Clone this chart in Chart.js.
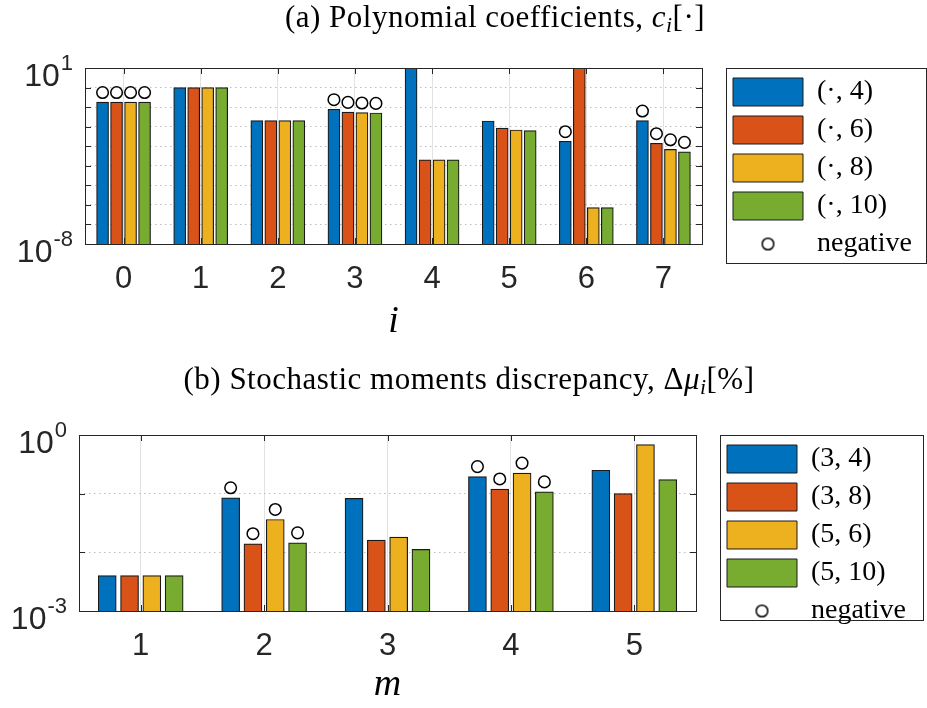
<!DOCTYPE html>
<html><head><meta charset="utf-8">
<script src="https://cdn.jsdelivr.net/npm/chart.js@4.4.0/dist/chart.umd.min.js"></script>
<style>
html,body{margin:0;padding:0;background:#fff;}
#root{position:relative;width:927px;height:708px;overflow:hidden;background:#fff;}
canvas{position:absolute;left:0;}
.ttl{position:absolute;width:800px;text-align:center;font-family:"Liberation Serif","Times New Roman",serif;font-size:31px;line-height:34px;letter-spacing:0.5px;white-space:nowrap;color:#000;}
.ttl sub{font-size:0.7em;vertical-align:-0.25em;line-height:0;}
</style></head><body><div id="root">
<canvas id="c1" width="927" height="350" style="top:0"></canvas>
<canvas id="c2" width="927" height="358" style="top:350px"></canvas>
<div class="ttl" style="left:95px;top:0px">(a) Polynomial coefficients, <i>c</i><sub><i>i</i></sub>[·]</div>
<div class="ttl" style="left:69px;top:362px">(b) Stochastic moments discrepancy, Δ<i>μ</i><sub><i>i</i></sub>[%]</div>
</div>
<script>
// ---------- data: (a) polynomial coefficients ----------
const coefIndex  = ['0', '1', '2', '3', '4', '5', '6', '7'];
const coefLabels = ['(·, 4)', '(·, 6)', '(·, 8)', '(·, 10)'];
const coef4  = [0.18, 1.0, 0.0204, 0.0776, 60,     0.0195,  0.00178, 0.0204];
const coef6  = [0.18, 1.0, 0.0204, 0.0562, 2.0e-4, 0.0085,  60,      0.00141];
const coef8  = [0.18, 1.0, 0.0204, 0.0525, 2.0e-4, 0.00676, 7.2e-7,  6.9e-4];
const coef10 = [0.18, 1.0, 0.0204, 0.0501, 2.0e-4, 0.0063,  7.2e-7,  5.1e-4];
const coefNeg4  = [1, 0, 0, 1, 0, 0, 1, 1];
const coefNeg6  = [1, 0, 0, 1, 0, 0, 0, 1];
const coefNeg8  = [1, 0, 0, 1, 0, 0, 0, 1];
const coefNeg10 = [1, 0, 0, 1, 0, 0, 0, 1];
const coefYTickExp = [-8, 1];
const coefXTitle = 'i';

// ---------- data: (b) stochastic moments discrepancy ----------
const momentOrder  = ['1', '2', '3', '4', '5'];
const momentLabels = ['(3, 4)', '(3, 8)', '(5, 6)', '(5, 10)'];
const mom34  = [0.004, 0.085,  0.083,  0.195, 0.251];
const mom38  = [0.004, 0.0140, 0.0162, 0.120, 0.100];
const mom56  = [0.004, 0.0363, 0.0182, 0.224, 0.684];
const mom510 = [0.004, 0.0145, 0.0112, 0.107, 0.174];
const momNeg34  = [0, 1, 0, 1, 0];
const momNeg38  = [0, 1, 0, 1, 0];
const momNeg56  = [0, 1, 0, 1, 0];
const momNeg510 = [0, 1, 0, 1, 0];
const momYTickExp = [-3, 0];
const momXTitle = 'm';
const negLabel = 'negative';

// ---------- styles ----------
const COLORS = ['#0072BD', '#D95319', '#EDB120', '#77AC30'];
const AXIS = '#262626';
const SANS = '"Liberation Sans", Arial, sans-serif';
const SERIF = '"Liberation Serif", "Times New Roman", serif';

function circleImage() {
  const c = document.createElement('canvas');
  c.width = 15; c.height = 15;
  const g = c.getContext('2d');
  g.beginPath(); g.arc(7.5, 7.5, 5.8, 0, Math.PI * 2);
  g.fillStyle = '#fff'; g.fill();
  g.lineWidth = 1.5; g.strokeStyle = '#000'; g.stroke();
  return c;
}
const CIRCLE_IMG = circleImage();

const framePlugin = {
  id: 'frame',
  beforeLayout(chart, args, o) {
    const lg = chart.legend;
    if (lg && !lg._fixedW) {
      const fit = lg.fit;
      lg.fit = function () { fit.call(this); this.width = o.legendWidth; };
      lg._fixedW = true;
    }
  },
  afterDatasetsDraw(chart, args, o) {
    const ctx = chart.ctx, ca = chart.chartArea;
    const xs = chart.scales.x, ys = chart.scales.y;
    ctx.save();
    ctx.strokeStyle = AXIS; ctx.lineWidth = 1;
    ctx.beginPath();
    xs.ticks.forEach((t, i) => {
      const px = Math.round(xs.getPixelForTick(i)) + 0.5;
      ctx.moveTo(px, ca.bottom); ctx.lineTo(px, ca.bottom - 6);
      ctx.moveTo(px, ca.top); ctx.lineTo(px, ca.top + 6);
    });
    ys.ticks.forEach(t => {
      const py = Math.round(ys.getPixelForValue(t.value)) + 0.5;
      ctx.moveTo(ca.left, py); ctx.lineTo(ca.left + 6, py);
      ctx.moveTo(ca.right, py); ctx.lineTo(ca.right - 6, py);
    });
    ctx.stroke();
    ctx.strokeRect(Math.round(ca.left) + 0.5, Math.round(ca.top) + 0.5,
                   Math.round(ca.right) - Math.round(ca.left), Math.round(ca.bottom) - Math.round(ca.top));
    ctx.restore();
  },
  afterDraw(chart, args, o) {
    const ctx = chart.ctx, ca = chart.chartArea, ys = chart.scales.y;
    ctx.save();
    ctx.fillStyle = AXIS;
    ctx.textBaseline = 'alphabetic';
    o.tickExp.forEach(e => {
      const py = ys.getPixelForValue(Math.pow(10, e));
      const es = String(e);
      ctx.font = '22px ' + SANS;
      const ew = ctx.measureText(es).width;
      const xr = ca.left - 12;
      ctx.textAlign = 'left';
      ctx.fillText(es, xr - ew, py + 1.5);
      ctx.font = '32px ' + SANS;
      ctx.textAlign = 'right';
      ctx.fillText('10', xr - ew - 1, py + 17.5);
    });
    const lg = chart.legend;
    ctx.strokeStyle = AXIS; ctx.lineWidth = 1;
    const x0 = Math.round(lg.left) + 3.5, y0 = Math.round(ca.top) + 0.5;
    ctx.strokeRect(x0, y0, o.frameRight - x0, o.frameBottom - y0);
    ctx.restore();
  }
};

function makeChart(canvasId, cats, series, labels, negs, tickExp, xTitle, g) {
  const n = cats.length;
  // position of bar j inside category i, in category units (same rule for bars and circles)
  const slot = (i, j) => i + g.groupWidth * (j - (series.length - 1) / 2) / series.length;
  const datasets = series.map((vals, j) => ({
    type: 'bar', label: labels[j],
    data: vals.map((v, i) => ({x: slot(i, j), y: v})),
    xAxisID: 'xc', yAxisID: 'y', grouped: false, barThickness: g.barPx,
    backgroundColor: COLORS[j], borderColor: '#1a1a1a', borderWidth: 1.2,
    pointStyle: 'rect', order: 1,
    clip: {left: false, right: false, top: 0, bottom: false}
  }));
  const negPts = [];
  series.forEach((vals, j) => vals.forEach((v, i) => {
    if (negs[j][i]) negPts.push({x: slot(i, j), y: v * g.lift});
  }));
  datasets.push({
    type: 'scatter', label: negLabel, data: negPts, xAxisID: 'xc', yAxisID: 'y',
    pointStyle: 'circle', pointRadius: 5.8, pointBorderWidth: 1.5,
    pointBackgroundColor: '#fff', pointBorderColor: '#000', order: 0, showLine: false
  });
  const decades = [];
  for (let e = tickExp[0]; e <= tickExp[tickExp.length - 1]; e++) decades.push(Math.pow(10, e));

  return new Chart(document.getElementById(canvasId), {
    type: 'bar',
    data: {labels: cats, datasets},
    options: {
      responsive: false, animation: false, events: [],
      layout: {padding: {top: g.padTop, left: 0, right: 0, bottom: 0}},
      scales: {
        x: {
          type: 'category', position: 'bottom', offset: true,
          grid: {display: true, offset: false, color: '#e2e2e2', lineWidth: 1, drawTicks: false},
          border: {display: false},
          ticks: {font: {family: SANS, size: 31}, color: AXIS, padding: 17, maxRotation: 0, autoSkip: false},
          title: {display: true, text: xTitle, color: '#000',
                  font: {family: SERIF, style: 'italic', size: 38}, padding: {top: 0, bottom: g.titlePad}},
          afterFit: s => { s.height = g.xAxisH; }
        },
        xc: {type: 'linear', axis: 'x', position: 'bottom', display: false, offset: false,
             grid: {offset: false}, bounds: 'data', min: -0.5, max: n - 0.5},
        y: {
          type: 'logarithmic', position: 'left',
          min: Math.pow(10, tickExp[0]), max: Math.pow(10, tickExp[tickExp.length - 1]),
          afterBuildTicks: s => { s.ticks = decades.map(v => ({value: v})); },
          ticks: {display: false},
          grid: {display: true, color: '#bdbdbd', lineWidth: 1, drawTicks: false},
          border: {display: false, dash: [1.5, 3.5]},
          afterFit: s => { s.width = g.yAxisW; }
        },
        yr: {
          type: 'linear', position: 'right', display: true,
          grid: {display: false}, ticks: {display: false}, border: {display: false},
          afterFit: s => { s.width = g.yrW; }
        }
      },
      plugins: {
        title: {display: false},
        tooltip: {enabled: false},
        legend: {
          display: true, position: 'right', align: 'start', fullSize: true,
          labels: {
            usePointStyle: true, pointStyleWidth: 70, boxHeight: 28, padding: 10,
            font: {family: SERIF, size: 28}, color: '#000',
            sort: (a, b) => a.datasetIndex - b.datasetIndex,
            generateLabels(chart) {
              const items = Chart.defaults.plugins.legend.labels.generateLabels(chart);
              items.forEach(it => {
                const ds = chart.data.datasets[it.datasetIndex];
                if (ds.type === 'scatter') it.pointStyle = CIRCLE_IMG;
                else { it.pointStyle = 'rect'; it.lineWidth = 1; it.strokeStyle = '#1a1a1a'; }
              });
              return items;
            }
          }
        },
        frame: {legendWidth: g.legendW, tickExp, frameRight: g.frameRight, frameBottom: g.frameBottom}
      }
    },
    plugins: [framePlugin]
  });
}

makeChart('c1', coefIndex, [coef4, coef6, coef8, coef10], coefLabels,
  [coefNeg4, coefNeg6, coefNeg8, coefNeg10], coefYTickExp, coefXTitle,
  {padTop: 68, yAxisW: 85, yrW: 21, legendW: 204, xAxisH: 106, titlePad: 5,
   groupWidth: 0.726, barPx: 12, lift: Math.pow(10, 0.49), frameRight: 926.5, frameBottom: 263.5});

makeChart('c2', momentOrder, [mom34, mom38, mom56, mom510], momentLabels,
  [momNeg34, momNeg38, momNeg56, momNeg510], momYTickExp, momXTitle,
  {padTop: 85, yAxisW: 79, yrW: 21, legendW: 210, xAxisH: 97, titlePad: 0,
   groupWidth: 0.723, barPx: 18, lift: Math.pow(10, 0.171), frameRight: 923.5, frameBottom: 270.5});
</script>
</body></html>
